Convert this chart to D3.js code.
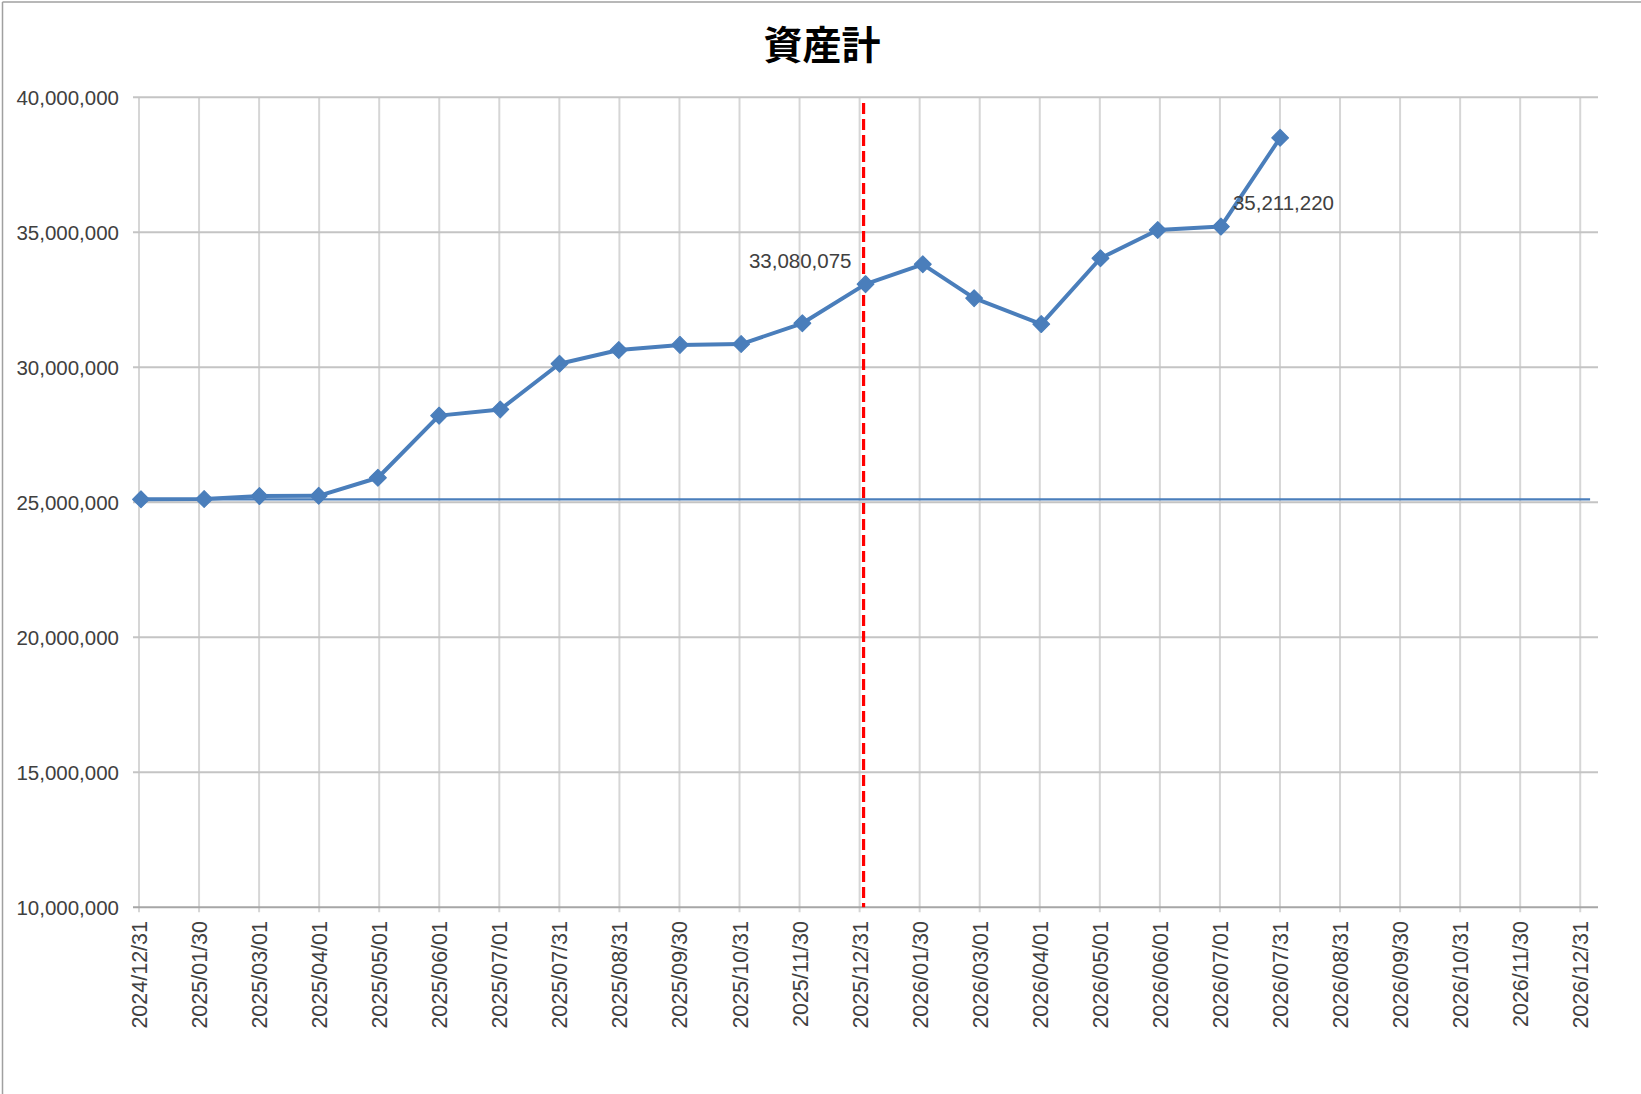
<!DOCTYPE html>
<html lang="ja">

<head>
  <meta charset="UTF-8">
  <script src="https://cdn.jsdelivr.net/npm/d3@7"></script>
  <title>資産計</title>
  <style>
    body { margin: 0; background: #fff; }
  </style>
</head>

<body>
  <script>
  // Data (dates as they sit on the date axis)
  const dates = [
    "2025-01-01", "2025-02-02", "2025-03-02", "2025-04-01", "2025-05-01",
    "2025-06-01", "2025-07-02", "2025-08-01", "2025-08-31", "2025-10-01",
    "2025-11-01", "2025-12-02", "2026-01-03", "2026-02-01", "2026-02-27",
    "2026-04-02", "2026-05-02", "2026-05-31", "2026-07-02", "2026-08-01"
  ];
  const values = [
    25110000, 25120000, 25230000, 25240000, 25910000,
    28210000, 28440000, 30130000, 30640000, 30830000,
    30860000, 31630000, 33080075, 33815000, 32560000,
    31600000, 34040000, 35085000, 35211220, 38500000
  ];
  const labelDates = ["2026-01-03", "2026-07-02"];
  const baselineDates = ["2024-12-31", "2027-01-05"];
  const baselineValue = 25110000;
  const markerDate = "2026-01-02";
  const tickLabels = [
    "2024/12/31", "2025/01/30", "2025/03/01", "2025/04/01", "2025/05/01",
    "2025/06/01", "2025/07/01", "2025/07/31", "2025/08/31", "2025/09/30",
    "2025/10/31", "2025/11/30", "2025/12/31", "2026/01/30", "2026/03/01",
    "2026/04/01", "2026/05/01", "2026/06/01", "2026/07/01", "2026/07/31",
    "2026/08/31", "2026/09/30", "2026/10/31", "2026/11/30", "2026/12/31"
  ];
  const yTicks = [10000000, 15000000, 20000000, 25000000, 30000000, 35000000, 40000000];

  const w = 1641;
  const h = 1094;
  const blue = "#4a7ebb";
  const parse = d3.utcParse("%Y-%m-%d");

  const svg = d3.select("body")
    .append("svg")
    .attr("width", w)
    .attr("height", h);

  // chart frame (top + left edge visible)
  svg.append("line").attr("x1", 2.5).attr("x2", w).attr("y1", 2).attr("y2", 2)
    .attr("stroke", "#a0a0a0").attr("stroke-width", 1.5);
  svg.append("line").attr("x1", 2.5).attr("x2", 2.5).attr("y1", 2).attr("y2", h)
    .attr("stroke", "#a0a0a0").attr("stroke-width", 1.5);

  // title
  svg.append("text")
    .attr("x", 822)
    .attr("y", 59)
    .attr("text-anchor", "middle")
    .attr("font-family", "'Noto Sans CJK JP', sans-serif")
    .attr("font-weight", "bold")
    .attr("font-size", 39)
    .attr("fill", "#000")
    .text("資産計");

  const plotLeft = 133, plotRight = 1598;

  // date axis runs a little past the last tick
  const x = d3.scaleUtc()
    .domain([parse("2024-12-31"), parse("2027-01-09")])
    .range([139, 1598]);

  const y = d3.scaleLinear()
    .domain([10000000, 40000000])
    .range([907.3, 97.3]);

  // tick dates: 24 equal steps between first and last label
  const t0 = parse("2024-12-31").getTime();
  const t1 = parse("2026-12-31").getTime();
  const tickDates = tickLabels.map((d, i) => new Date(t0 + i * (t1 - t0) / (tickLabels.length - 1)));

  // vertical gridlines + tick marks
  svg.append("g")
    .selectAll("line")
    .data(tickDates)
    .enter()
    .append("line")
    .attr("x1", d => x(d))
    .attr("x2", d => x(d))
    .attr("y1", y(40000000))
    .attr("y2", y(10000000) + 5)
    .attr("stroke", "#d6d6d6")
    .attr("stroke-width", 2);

  // horizontal gridlines
  svg.append("g")
    .selectAll("line")
    .data(yTicks)
    .enter()
    .append("line")
    .attr("x1", plotLeft)
    .attr("x2", plotRight)
    .attr("y1", d => y(d))
    .attr("y2", d => y(d))
    .attr("stroke", d => d === 10000000 ? "#a6a6a6" : "#c4c4c4")
    .attr("stroke-width", 2);

  // y labels
  svg.append("g")
    .selectAll("text")
    .data(yTicks)
    .enter()
    .append("text")
    .attr("x", 119)
    .attr("y", d => y(d))
    .attr("dy", "0.36em")
    .attr("text-anchor", "end")
    .attr("font-family", "'Liberation Sans', Arial, sans-serif")
    .attr("font-size", 20.5)
    .attr("fill", "#404040")
    .text(d => d3.format(",")(d));

  // x labels, rotated
  svg.append("g")
    .selectAll("text")
    .data(tickLabels)
    .enter()
    .append("text")
    .attr("transform", (d, i) => "translate(" + (x(tickDates[i]) + 8) + ",921) rotate(-90)")
    .attr("text-anchor", "end")
    .attr("font-family", "'Liberation Sans', Arial, sans-serif")
    .attr("font-size", 21.5)
    .attr("fill", "#404040")
    .text(d => d);

  // flat starting-value line
  svg.append("line")
    .attr("x1", x(parse(baselineDates[0])))
    .attr("x2", x(parse(baselineDates[1])))
    .attr("y1", y(baselineValue))
    .attr("y2", y(baselineValue))
    .attr("stroke", blue)
    .attr("stroke-width", 2.2);

  // red dashed year-end marker
  svg.append("line")
    .attr("x1", x(parse(markerDate)))
    .attr("x2", x(parse(markerDate)))
    .attr("y1", 103)
    .attr("y2", y(10000000))
    .attr("stroke", "#ff0000")
    .attr("stroke-width", 3.2)
    .attr("stroke-dasharray", "11,5");

  const points = dates.map((d, i) => ({ date: parse(d), value: values[i], key: d }));

  // main series
  const line = d3.line()
    .x(d => x(d.date))
    .y(d => y(d.value));

  svg.append("path")
    .datum(points)
    .attr("d", line)
    .attr("fill", "none")
    .attr("stroke", blue)
    .attr("stroke-width", 4)
    .attr("stroke-linejoin", "round");

  svg.append("g")
    .selectAll("path")
    .data(points)
    .enter()
    .append("path")
    .attr("d", d3.symbol().type(d3.symbolSquare).size(140))
    .attr("transform", d => "translate(" + x(d.date) + "," + y(d.value) + ") rotate(45)")
    .attr("fill", blue)
    .attr("stroke", blue)
    .attr("stroke-width", 1.2)
    .attr("stroke-linejoin", "round");

  // data labels
  const labelled = points.filter(d => labelDates.includes(d.key));
  svg.append("g")
    .selectAll("text")
    .data(labelled)
    .enter()
    .append("text")
    .attr("x", (d, i) => i === 0 ? x(d.date) - 14 : x(d.date) + 12)
    .attr("y", d => y(d.value) - 24)
    .attr("dy", "0.36em")
    .attr("text-anchor", (d, i) => i === 0 ? "end" : "start")
    .attr("font-family", "'Liberation Sans', Arial, sans-serif")
    .attr("font-size", 20.5)
    .attr("fill", "#404040")
    .text(d => d3.format(",")(d.value));
  </script>
</body>
</html>
